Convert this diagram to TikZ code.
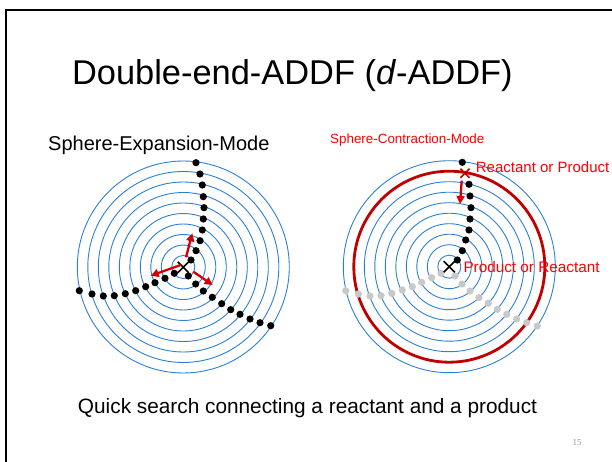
\documentclass[tikz,border=0pt]{standalone}
\usepackage{fontspec}
\setmainfont{Liberation Sans}
\newfontfamily\pagenumfont{Liberation Serif}
\usetikzlibrary{arrows.meta,shapes.misc}
\definecolor{ringblue}{RGB}{45,128,212}
\definecolor{darkred}{RGB}{192,0,0}
\definecolor{arrowred}{RGB}{210,0,0}
\definecolor{labelred}{RGB}{255,0,0}
\definecolor{dotgray}{RGB}{200,200,200}
\definecolor{numgray}{RGB}{150,150,150}
\begin{document}
\begin{tikzpicture}[x=1pt,y=-1pt,
  ring/.style={draw=ringblue,line width=0.9pt},
  bigring/.style={draw=darkred,line width=2.8pt},
  blackdot/.style={circle,fill=black,inner sep=0pt,minimum size=7.2pt},
  graydot/.style={circle,fill=dotgray,inner sep=0pt,minimum size=7.2pt},
  xmark/.style={cross out,draw=black,line width=1.6pt,inner sep=0pt,minimum size=9.5pt},
  redxmark/.style={cross out,draw=darkred,line width=1.6pt,inner sep=0pt,minimum size=7.5pt},
  redarrow/.style={draw=arrowred,line width=2.3pt,-{Triangle[length=8pt,width=8pt]}},
  frame/.style={draw=black,line width=2pt},
  txt/.style={inner sep=0pt,font=#1},
]
\useasboundingbox (0,0) rectangle (612,462);
\fill[white] (0,0) rectangle (612,462);
\draw[frame] (6,10) rectangle (630,480);

% title
\node[txt=\fontsize{34.4}{40}\selectfont,anchor=base] (title) at (292.4,85) {Double-end-ADDF (\textit{d}-ADDF)};
\node[txt=\fontsize{20}{24}\selectfont,anchor=west] (lefttitle) at (48,145) {Sphere-Expansion-Mode};
\node[txt=\fontsize{13.4}{16}\selectfont,anchor=west,text=labelred] (righttitle) at (330,140) {Sphere-Contraction-Mode};
\node[txt=\fontsize{20.8}{24}\selectfont] (caption) at (307.5,408) {Quick search connecting a reactant and a product};
\node[txt=\fontsize{9}{10}\selectfont\pagenumfont,text=numgray] (pagenum) at (577,443) {15};

% left rings
\coordinate (cl) at (183.3,267);
\foreach \r in {11.5,22,32.5,43,53.5,64,74.5,85,95.5,106}
  \draw[ring] (cl) circle[radius=\r pt];
% right rings
\coordinate (cr) at (449.3,266.7);
\foreach \r in {11.5,22,32.5,43,53.5,64,74.5,85,95.5,106}
  \draw[ring] (cr) circle[radius=\r pt];
\draw[bigring] (cr) circle[radius=95.5pt];

% left dots
\foreach \x/\y [count=\i] in {196/162.7,200/174,202.3/185,203.3/196.7,204/207.7,203.3/219,202.3/230,200/240.7,196/250.7,191/260,
  174.3/273.3,165/278.3,155/282.7,145.7/286.7,135.7/290.7,125.3/293.7,114.3/295.7,103.3/296,92/294,79.3/290.7,
  188.3/276,195.7/284,203.3/291,212.3/297.3,221.7/303.7,230.7/309.7,240/314.3,250/319,260/322.7,270.7/325.7}
  \node[blackdot] (ld\i) at (\x,\y) {};

% right gray dots
\foreach \x/\y [count=\i] in {441/273.3,431.7/277.7,421.7/282.3,412.3/286.7,402.3/290,391.7/293.3,381/295.7,370/296,358.3/294,345.7/290.7,
  455/276,462/284,470/291,479/297.7,488.3/303.3,497.3/309.3,506.7/314.3,516.7/319,526.7/322.7,537.3/326}
  \node[graydot] (rg\i) at (\x,\y) {};
% right black dots
\foreach \x/\y [count=\i] in {462.3/162.3,469/184.3,470/196,471/207.7,470/219,469/230,465.7/240,462.3/250.7,457.3/260}
  \node[blackdot] (rb\i) at (\x,\y) {};

% markers
\node[xmark] (xl) at (183.3,267.3) {};
\node[xmark] (xr) at (449.3,266.7) {};
\node[redxmark] (xtop) at (465,173.3) {};

% left arrows
\coordinate (a1s) at (186,257.3);  \coordinate (a1e) at (192.3,233.3);
\coordinate (a2s) at (180.7,265);  \coordinate (a2e) at (150.7,275.7);
\coordinate (a3s) at (193.3,271.7); \coordinate (a3e) at (212.7,285);
\draw[redarrow] (a1s) -- (a1e);
\draw[redarrow] (a2s) -- (a2e);
\draw[redarrow] (a3s) -- (a3e);
% right arrow
\coordinate (a4s) at (461.7,180.7); \coordinate (a4e) at (460,204);
\draw[redarrow] (a4s) -- (a4e);

% labels
\node[txt=\fontsize{15}{18}\selectfont,anchor=west,text=labelred] (lab1) at (475.7,167.3) {Reactant or Product};
\node[txt=\fontsize{15.3}{18}\selectfont,anchor=west,text=labelred] (lab2) at (463.3,266.7) {Product or Reactant};
\end{tikzpicture}
\end{document}
